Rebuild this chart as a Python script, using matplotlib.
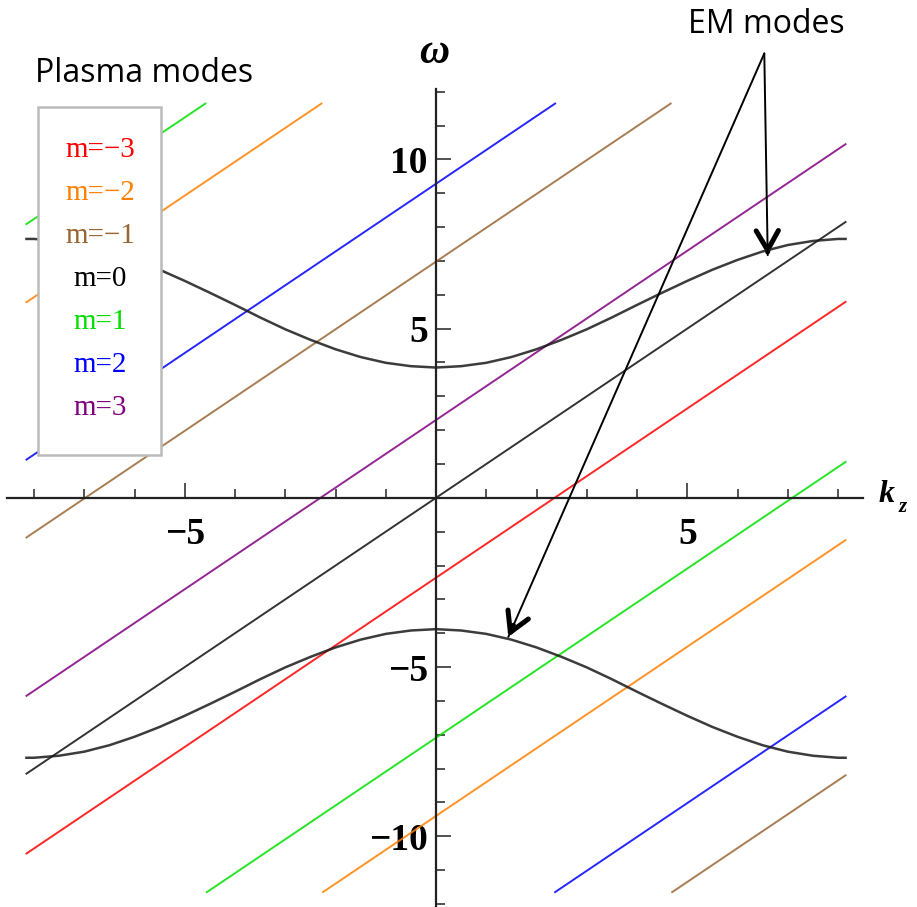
import matplotlib
matplotlib.use('Agg')
import matplotlib.pyplot as plt
from matplotlib.patches import Rectangle, FancyArrowPatch
import numpy as np

plt.rcParams['font.family'] = ['Liberation Serif', 'DejaVu Serif']

# plasma mode lines: omega = kz + offset, one list of offsets per m
m_values = [-3, -2, -1, 0, 1, 2, 3]
m_colors = ['#ff0000', '#ff8000', '#996633', '#000000', '#00e000', '#0000ff', '#800080']
line_offsets = [
    [-2.36],
    [13.93, -9.40],
    [6.98, -16.35],
    [0.0],
    [16.24, -7.09],
    [9.28, -14.02],
    [2.30],
]
kz_min, kz_max = -8.15, 8.15
omega_clip = 11.65

# EM mode curves
em_kz = [-8.15, -8.0, -7.5, -7.0, -6.5, -6.0, -5.5, -5.0, -4.5, -4.0, -3.5, -3.0,
         -2.5, -2.0, -1.5, -1.0, -0.5, 0.0, 0.5, 1.0, 1.5, 2.0, 2.5, 3.0, 3.5,
         4.0, 4.5, 5.0, 5.5, 6.0, 6.5, 7.0, 7.5, 8.0, 8.15]
em_upper = [7.65, 7.65, 7.59, 7.47, 7.28, 7.03, 6.74, 6.41, 6.06, 5.70, 5.33, 4.98,
            4.67, 4.39, 4.16, 3.99, 3.89, 3.85, 3.89, 3.99, 4.16, 4.39, 4.67, 4.98,
            5.33, 5.70, 6.06, 6.41, 6.74, 7.03, 7.28, 7.47, 7.59, 7.65, 7.65]
em_lower = [-7.68, -7.68, -7.62, -7.50, -7.31, -7.06, -6.77, -6.44, -6.09, -5.73, -5.36, -5.01,
            -4.70, -4.42, -4.19, -4.02, -3.92, -3.88, -3.92, -4.02, -4.19, -4.42, -4.70, -5.01,
            -5.36, -5.73, -6.09, -6.44, -6.77, -7.06, -7.31, -7.50, -7.62, -7.68, -7.68]

x_major = [-5, 5]
y_major = [-10, -5, 5, 10]

# annotation anchor (kz, omega) and arrow tips
arrow_start = (6.533, 13.13)
arrow_tips = [(6.601, 7.17), (1.439, -4.11)]

W, H = 917, 907
fig = plt.figure(figsize=(W / 100, H / 100), dpi=100)
ax = fig.add_axes([0, 0, 1, 1])
ax.set_xlim(-8.677, 9.572)
ax.set_ylim(-12.09, 14.71)

for m, c, offs in zip(m_values, m_colors, line_offsets):
    for b in offs:
        lo = max(kz_min, -omega_clip - b)
        hi = min(kz_max, omega_clip - b)
        k = np.array([lo, hi])
        ax.plot(k, k + b, color=c, lw=1.4, alpha=0.85 if c != '#000000' else 0.8)

ax.plot(em_kz, em_upper, color='#1a1a1a', lw=1.8, alpha=0.85)
ax.plot(em_kz, em_lower, color='#1a1a1a', lw=1.8, alpha=0.85)

# axes through the origin, Mathematica style
for s in ['top', 'right']:
    ax.spines[s].set_visible(False)
ax.spines['left'].set_position(('data', 0))
ax.spines['bottom'].set_position(('data', 0))
ax.spines['bottom'].set_bounds(-8.53, 8.5)
ax.spines['left'].set_bounds(-12.09, 12.07)
for s in ['left', 'bottom']:
    ax.spines[s].set_linewidth(1.6)
    ax.spines[s].set_color('#222222')

ax.set_xticks(x_major, labels=[f'{v}'.replace('-', '\u2212') for v in x_major],
              fontsize=27, fontweight='bold')
ax.set_yticks(y_major, labels=[f'{v}'.replace('-', '\u2212') for v in y_major],
              fontsize=27, fontweight='bold')
ax.set_xticks([v for v in range(-8, 9) if v != 0], minor=True)
ax.set_yticks([v for v in range(-12, 13) if v != 0], minor=True)
ax.tick_params(which='both', direction='in', color='#222222', width=1.1)
ax.tick_params(which='major', length=11)
ax.tick_params(which='minor', length=6.5)
ax.tick_params(axis='x', pad=14)
ax.tick_params(axis='y', pad=6)

# axis labels
fig.text(434 / W, 1 - 53 / H, '\u03c9', fontsize=30, fontweight='bold', style='italic',
         ha='center', va='center')
fig.text(879 / W, 1 - 502 / H, 'k', fontsize=23, fontweight='bold', style='italic',
         ha='left', va='baseline')
fig.text(899 / W, 1 - 512 / H, 'z', fontsize=15, fontweight='bold', style='italic',
         ha='left', va='baseline')

# legend box
rect = Rectangle((38.3 / W, 1 - 455 / H), (160.7 - 38.3) / W, (455 - 107.3) / H,
                 transform=fig.transFigure, facecolor='white', edgecolor='#bbbbbb',
                 lw=1.8, zorder=5)
fig.add_artist(rect)
for i, (m, c) in enumerate(zip(m_values, m_colors)):
    label = f'm={m}'.replace('-', '\u2212')
    fig.text(100 / W, 1 - (150 + 43 * i) / H, label, color=c, fontsize=21,
             ha='center', va='center', zorder=6)

# annotations
fig.text(35 / W, 1 - 81.7 / H, 'Plasma modes', family='Open Sans', fontsize=23,
         ha='left', va='baseline')
fig.text(688 / W, 1 - 33.3 / H, 'EM modes', family='Open Sans', fontsize=23,
         ha='left', va='baseline')

for tip in arrow_tips:
    ax.annotate('', xy=tip, xytext=arrow_start, annotation_clip=False,
                arrowprops=dict(arrowstyle='-', lw=1.4, color='black',
                                shrinkA=0, shrinkB=0))
    near = (tip[0] + 0.02 * (arrow_start[0] - tip[0]),
            tip[1] + 0.02 * (arrow_start[1] - tip[1]))
    head = FancyArrowPatch(near, tip, arrowstyle='->,head_length=14,head_width=8',
                           mutation_scale=1, lw=3.6, color='black',
                           shrinkA=0, shrinkB=0, clip_on=False)
    ax.add_patch(head)

fig.savefig('out.png', dpi=100)
